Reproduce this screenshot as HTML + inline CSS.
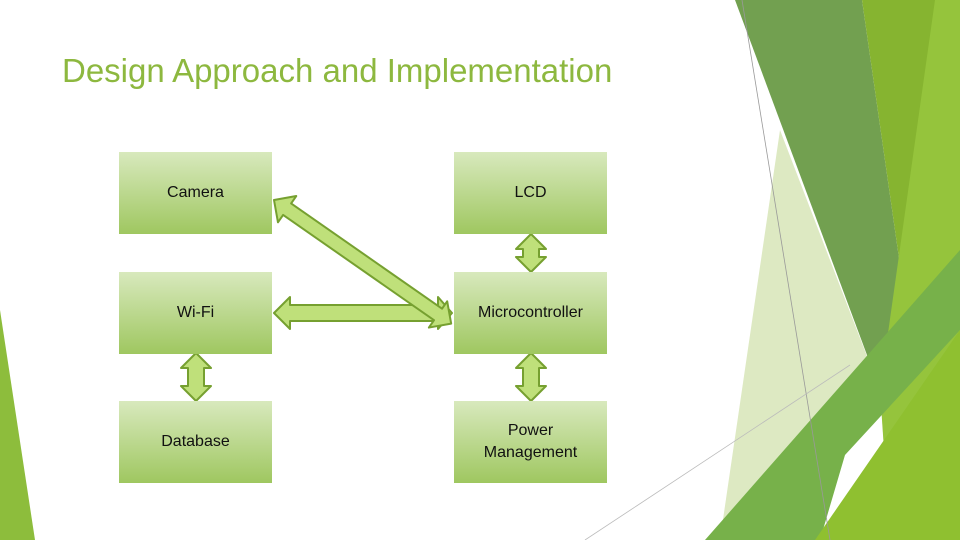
<!DOCTYPE html>
<html><head><style>
body{margin:0;width:960px;height:540px;overflow:hidden;background:#fff;font-family:"Liberation Sans",sans-serif;position:relative}
.t{position:absolute;left:62px;top:52px;font-size:33px;color:#8db83f;white-space:nowrap}
.b{position:absolute;width:153px;height:82px;background:linear-gradient(#d8e9bd,#9fc760);display:flex;align-items:center;justify-content:center;text-align:center;font-size:16px;color:#111;line-height:22px}
svg{position:absolute;left:0;top:0}
</style></head><body>
<svg width="960" height="540">
<polygon points="0,310 35,540 0,540" fill="#8dbd3c"/>
<polygon points="735,0 862,0 905,300 880,390" fill="#72a050"/>
<polygon points="862,0 960,0 960,330 905,300" fill="#86b430"/>
<polygon points="935,0 960,0 960,540 890,540 880,390" fill="#95c43c"/>
<polygon points="780,130 880,390 840,440 760,540 720,540" fill="#dde9c2"/>
<polygon points="880,390 905,320 880,410" fill="#4f8a26"/>
<polygon points="705,540 960,250 960,330 845,455 820,540" fill="#77b14a"/>
<polygon points="815,540 960,330 960,540" fill="#8fc030"/>
<line x1="742" y1="0" x2="830" y2="540" stroke="#999" stroke-width="0.8"/>
<line x1="585" y1="540" x2="850" y2="365" stroke="#bbb" stroke-width="0.8"/>
<g fill="#bfe07a" stroke="#76a030" stroke-width="2" stroke-linejoin="round">
<polygon points="274,313 290,297 290,305 438,305 438,297 452,313 438,329 438,321 290,321 290,329"/>
<g transform="translate(274,200) rotate(34.9)">
<polygon points="0,0 16,-16 16,-7 200,-7 200,-16 216,0 200,16 200,7 16,7 16,16"/>
</g>
<polygon points="531,234 546,249 539,249 539,257 546,257 531,272 516,257 523,257 523,249 516,249"/>
<polygon points="531,353 546,368 539,368 539,386 546,386 531,401 516,386 523,386 523,368 516,368"/>
<polygon points="196,353 211,368 204,368 204,386 211,386 196,401 181,386 188,386 188,368 181,368"/>
</g>
</svg>
<div class="t">Design Approach and Implementation</div>
<div class="b" style="left:119px;top:152px">Camera</div>
<div class="b" style="left:119px;top:272px">Wi-Fi</div>
<div class="b" style="left:119px;top:401px">Database</div>
<div class="b" style="left:454px;top:152px">LCD</div>
<div class="b" style="left:454px;top:272px">Microcontroller</div>
<div class="b" style="left:454px;top:401px">Power<br>Management</div>
</body></html>
